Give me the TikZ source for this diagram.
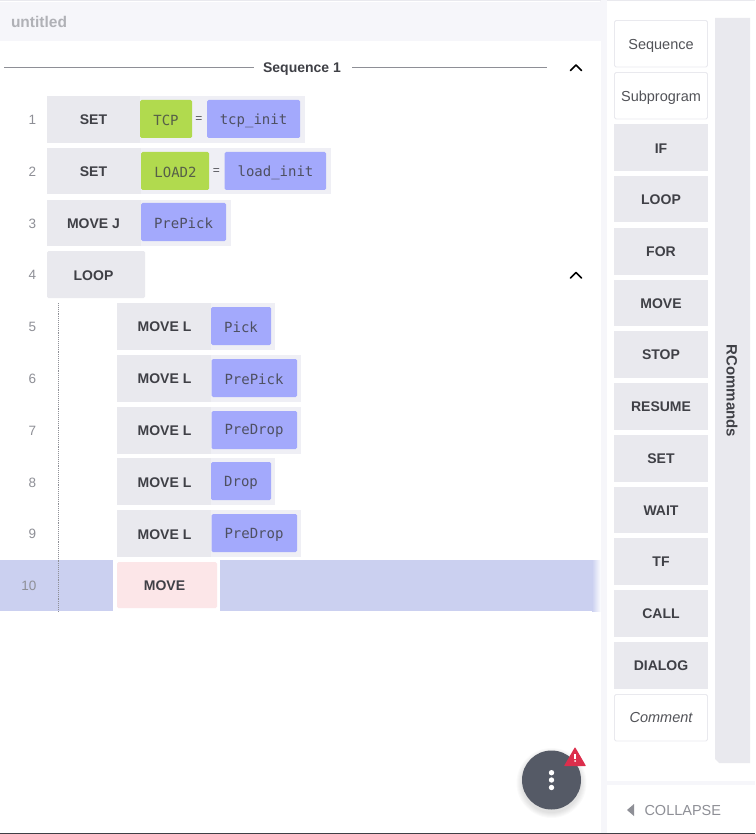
\documentclass[tikz,border=0pt]{standalone}
\usepackage{fontspec}
\setmainfont{Liberation Sans}
\setmonofont{DejaVu Sans Mono}
\usetikzlibrary{shapes.geometric}
\definecolor{cmdgrey}{HTML}{E9E9EE}
\definecolor{rowgrey}{HTML}{EFEFF5}
\definecolor{lilac}{HTML}{A3A9FC}
\definecolor{lime}{HTML}{B1DA4E}
\definecolor{band}{HTML}{CBD0F0}
\definecolor{pinkbox}{HTML}{FCE6E8}
\definecolor{headbg}{HTML}{F6F6FA}
\definecolor{ink}{HTML}{3F4046}
\definecolor{numgrey}{HTML}{8E8F96}
\definecolor{fabgrey}{HTML}{555A66}
\definecolor{alertred}{HTML}{DC2E4C}
\tikzset{
  x=1pt,y=-1pt,
  boxed/.style={anchor=center,inner sep=0pt,outer sep=0pt,rectangle},
  cmdtext/.style={boxed,text=ink,font=\fontsize{14}{16}\selectfont\bfseries},
  numtext/.style={boxed,text=numgrey,font=\fontsize{13.5}{15}\selectfont},
  monotext/.style={boxed,text=ink!85!lilac,font=\fontsize{14}{16}\selectfont\ttfamily},
  plaintext/.style={boxed,text=ink!90!white,font=\fontsize{14.5}{16}\selectfont},
  whitebtn/.style={draw=cmdgrey,line width=0.9pt,fill=white,rounded corners=1.5pt},
  greybtn/.style={fill=cmdgrey},
  rule/.style={draw=numgrey,line width=1pt},
  chev/.style={draw=black,line width=1.5pt,line cap=round,line join=round},
}
\begin{document}
\begin{tikzpicture}
\useasboundingbox (0,0) rectangle (755,834);
\fill[white] (0,0) rectangle (755,834);
% top strip and header
\fill[cmdgrey] (0,0) rectangle (755,1.5);
\fill[headbg] (0,2) rectangle (600,41);
\shade[left color=headbg,right color=white] (600,2) rectangle (607,41);
\node[boxed,anchor=west,text=numgrey!70!white,font=\fontsize{15.5}{16}\selectfont\bfseries] (title) at (11,22) {untitled};
% sequence heading
\node[cmdtext,text=ink] (seq) at (302,69) {Sequence 1};
\coordinate (ruleAa) at (4,67.5);
\coordinate (ruleAb) at (254,67.5);
\coordinate (ruleBa) at (352,67.5);
\coordinate (ruleBb) at (547,67.5);
\draw[rule] (ruleAa) -- (ruleAb);
\draw[rule] (ruleBa) -- (ruleBb);
\draw[chev] (570.5,70.5) -- (576,65) -- (581.5,70.5);
\draw[chev] (570.5,278) -- (576,272.5) -- (581.5,278);
% row 10 band
\fill[band] (0,560) rectangle (592,611);
\shade[left color=band,right color=white] (592,560) rectangle (601,611);
% dotted guide
\coordinate (guideA) at (58,303);
\coordinate (guideB) at (58,611);
\draw[numgrey,line width=0.9pt,densely dotted] (guideA) -- (guideB);
% row backgrounds
\fill[rowgrey] (47,96) rectangle (305,143);
\fill[rowgrey] (47,148) rectangle (331,194);
\fill[rowgrey] (47,200) rectangle (231,246);
\fill[rowgrey] (117,303) rectangle (275,350);
\fill[rowgrey] (117,355) rectangle (301,402);
\fill[rowgrey] (117,407) rectangle (301,454);
\fill[rowgrey] (117,458) rectangle (275,505);
\fill[rowgrey] (117,510) rectangle (301,557);
% command parts
\fill[cmdgrey] (47,96) rectangle (140,143);
\fill[cmdgrey] (47,148) rectangle (141,194);
\fill[cmdgrey] (47,200) rectangle (141,246);
\fill[cmdgrey,rounded corners=1.5pt] (47,251) rectangle (145,298);
\fill[cmdgrey] (117,303) rectangle (211,350);
\fill[cmdgrey] (117,355) rectangle (211,402);
\fill[cmdgrey] (117,407) rectangle (211,454);
\fill[cmdgrey] (117,458) rectangle (211,505);
\fill[cmdgrey] (117,510) rectangle (211,557);
% value chips
\fill[lime,rounded corners=1.5pt] (140,100) rectangle (192,138);
\fill[lilac,rounded corners=1.5pt] (207,100) rectangle (300,138);
\fill[lime,rounded corners=1.5pt] (141,152) rectangle (209,190);
\fill[lilac,rounded corners=1.5pt] (224.5,152) rectangle (326,190);
\fill[lilac,rounded corners=1.5pt] (141,203) rectangle (226,241);
\fill[lilac,rounded corners=1.5pt] (211,307) rectangle (271,345);
\fill[lilac,rounded corners=1.5pt] (211.5,359) rectangle (297,397);
\fill[lilac,rounded corners=1.5pt] (211.5,411) rectangle (297,449);
\fill[lilac,rounded corners=1.5pt] (211,462) rectangle (271,500);
\fill[lilac,rounded corners=1.5pt] (211.5,514) rectangle (297,552);
% row 10 box
\fill[white] (113,560) rectangle (220,611);
\fill[pinkbox,rounded corners=1.5pt] (117,562) rectangle (217,608);
% line numbers
\node[numtext] (n1) at (32.5,120) {1};
\node[numtext] (n2) at (32.5,172) {2};
\node[numtext] (n3) at (32.5,223.5) {3};
\node[numtext] (n4) at (32.5,275) {4};
\node[numtext] (n5) at (32.5,327) {5};
\node[numtext] (n6) at (32.5,379) {6};
\node[numtext] (n7) at (32.5,430.5) {7};
\node[numtext] (n8) at (32.5,482.5) {8};
\node[numtext] (n9) at (32.5,534) {9};
\node[numtext] (n10) at (29,586) {10};
% command labels
\node[cmdtext] (c1) at (93.5,120) {SET};
\node[cmdtext] (c2) at (93.5,172) {SET};
\node[cmdtext] (c3) at (93.5,223.5) {MOVE J};
\node[cmdtext] (c4) at (93.5,275.5) {LOOP};
\node[cmdtext] (c5) at (164.5,327) {MOVE L};
\node[cmdtext] (c6) at (164.5,379) {MOVE L};
\node[cmdtext] (c7) at (164.5,430.5) {MOVE L};
\node[cmdtext] (c8) at (164.5,482.5) {MOVE L};
\node[cmdtext] (c9) at (164.5,534.5) {MOVE L};
\node[cmdtext] (c10) at (164.5,585.5) {MOVE};
% values
\node[monotext,text=ink!80!lime] (v1a) at (166,120) {TCP};
\node[plaintext,font=\fontsize{12}{14}\selectfont] (e1) at (199,120) {=};
\node[monotext] (v1b) at (253.5,120.5) {tcp\_init};
\node[monotext,text=ink!80!lime] (v2a) at (175.5,172) {LOAD2};
\node[plaintext,font=\fontsize{12}{14}\selectfont] (e2) at (216.5,172) {=};
\node[monotext] (v2b) at (275.5,172.5) {load\_init};
\node[monotext] (v3) at (183.5,223.5) {PrePick};
\node[monotext] (v5) at (241,327) {Pick};
\node[monotext] (v6) at (254,379) {PrePick};
\node[monotext] (v7) at (254,431) {PreDrop};
\node[monotext] (v8) at (241,482.5) {Drop};
\node[monotext] (v9) at (254,534.5) {PreDrop};
% side panel
\fill[headbg] (601,0) rectangle (607,834);
\fill[cmdgrey] (715,18) -- (750,18) -- (750,763) -- (719,763) -- (715,759) -- cycle;
\node[cmdtext,rotate=-90,font=\fontsize{15}{16}\selectfont\bfseries] (rc) at (732,391) {RCommands};
\draw[whitebtn] (614.5,20.5) rectangle (707.5,67);
\draw[whitebtn] (614.5,72.5) rectangle (707.5,119);
\foreach \ya/\yb in {124/171,176/222.5,228/275,279.5/326,331/378,383/430,435/481.5,486.5/533,538/585,590/637,642/689}{
  \fill[greybtn] (614,\ya) rectangle (708,\yb);
}
\draw[whitebtn] (614.5,694.5) rectangle (707.5,741);
\node[plaintext] (b1) at (661,45.5) {Sequence};
\node[plaintext] (b2) at (661,97.5) {Subprogram};
\node[cmdtext] (b3) at (661,148.5) {IF};
\node[cmdtext] (b4) at (661,200) {LOOP};
\node[cmdtext] (b5) at (661,252) {FOR};
\node[cmdtext] (b6) at (661,303.5) {MOVE};
\node[cmdtext] (b7) at (661,355) {STOP};
\node[cmdtext] (b8) at (661,407) {RESUME};
\node[cmdtext] (b9) at (661,458.5) {SET};
\node[cmdtext] (b10) at (661,510.5) {WAIT};
\node[cmdtext] (b11) at (661,562) {TF};
\node[cmdtext] (b12) at (661,614) {CALL};
\node[cmdtext] (b13) at (661,666) {DIALOG};
\node[plaintext,font=\fontsize{14.5}{16}\selectfont\itshape] (b14) at (661,717.5) {Comment};
% collapse
\fill[headbg] (607,781) rectangle (755,785);
\fill[numgrey] (627,810) -- (634,804) -- (634,816) -- cycle;
\node[boxed,anchor=west,text=numgrey,font=\fontsize{14.5}{16}\selectfont] (col) at (644.5,810.5) {COLLAPSE};
% action button
\foreach \r in {35,34,33,32,31,30}{
  \fill[black,opacity=0.018] (551.5,783) circle (\r);
}
\node[circle,fill=fabgrey,minimum size=59pt,inner sep=0pt] (fab) at (551.5,780) {};
\fill[white] (551.5,772.7) circle (2.7);
\fill[white] (551.5,780) circle (2.7);
\fill[white] (551.5,787.5) circle (2.7);
\fill[alertred,rounded corners=0.6pt] (564,766) -- (575,747) -- (586,766) -- cycle;
\fill[white] (574.2,753.5) rectangle (575.8,758.5);
\fill[white] (575,761) circle (1);
% bottom line
\fill[ink] (0,832.7) rectangle (755,834);
\end{tikzpicture}
\end{document}
